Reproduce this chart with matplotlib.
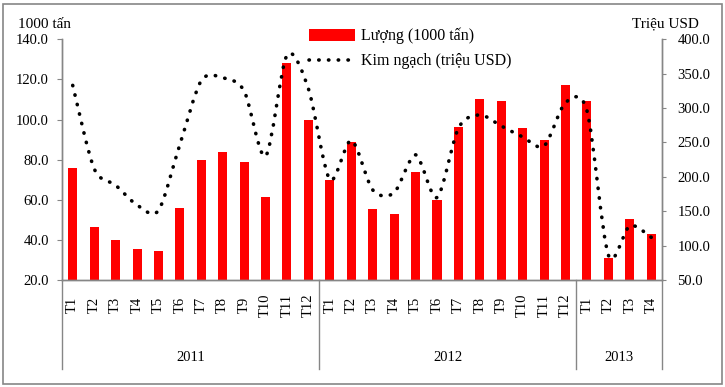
import numpy as np
import matplotlib
matplotlib.use("Agg")
import matplotlib.pyplot as plt
from matplotlib.path import Path
from matplotlib.patches import PathPatch, Patch, Rectangle
from matplotlib.lines import Line2D
import matplotlib.transforms as mtransforms

plt.rcParams['font.family'] = ['Liberation Serif', 'DejaVu Serif']

# --- data
months = ['T1', 'T2', 'T3', 'T4', 'T5', 'T6', 'T7', 'T8', 'T9', 'T10', 'T11', 'T12',
          'T1', 'T2', 'T3', 'T4', 'T5', 'T6', 'T7', 'T8', 'T9', 'T10', 'T11', 'T12',
          'T1', 'T2', 'T3', 'T4']
years = ['2011', '2012', '2013']
year_sizes = [12, 12, 4]

# Lượng (1000 tấn)
qty = [76, 46.5, 40, 35.5, 34.5, 56, 80, 84, 79, 61.5, 128, 100,
       70, 89, 55.5, 53, 74, 60, 96.5, 110, 109, 96, 90, 117,
       109, 31, 50.5, 43]
# Kim ngạch (triệu USD)
value = [333, 212, 188, 159, 151, 247, 340, 344, 325, 230, 377, 328,
         196, 253, 181, 177, 232, 170, 271, 290, 274, 258, 245, 308,
         296, 86, 129, 112]

RED = '#FF0000'
GRAY = '#868686'
FS = 10.5

W, H = 725, 387
fig = plt.figure(figsize=(W / 100, H / 100), dpi=100)
ax = fig.add_axes([62 / W, 1 - 280 / H, 600 / W, 240.7 / H])

x = np.arange(len(months))
ax.bar(x, qty, width=0.42, color=RED, zorder=2)
ax.set_xlim(-0.5, len(months) - 0.5)
ax.set_ylim(20, 140)
ax.set_yticks(np.arange(20, 141, 20))
ax.set_yticklabels([f'{v:.1f}' for v in np.arange(20, 141, 20)], fontsize=FS)
ax.set_xticks(x)
ax.set_xticklabels(months, rotation=90, fontsize=FS, va='center')
ax.tick_params(axis='x', length=0, pad=18)
ax.tick_params(axis='y', direction='out', length=3.5, color=GRAY, pad=6)

ax2 = ax.twinx()
ax2.set_ylim(50, 400)
ax2.set_yticks(np.arange(50, 401, 50))
ax2.set_yticklabels([f'{v:.1f}' for v in np.arange(50, 401, 50)], fontsize=FS)
ax2.tick_params(axis='y', direction='out', length=3, color=GRAY, pad=8)

for a in (ax, ax2):
    a.spines['top'].set_visible(False)
    for s in ('left', 'right', 'bottom'):
        a.spines[s].set_color(GRAY)
        a.spines[s].set_linewidth(1)

# smoothed dotted line (bezier through the data points)
pts = np.column_stack([x, value]).astype(float)
ext = np.vstack([pts[0], pts, pts[-1]])
verts = [tuple(pts[0])]
codes = [Path.MOVETO]
k = 1 / 7
for i in range(1, len(ext) - 2):
    p0, p1, p2, p3 = ext[i - 1], ext[i], ext[i + 1], ext[i + 2]
    c1 = p1 + (p2 - p0) * k
    c2 = p2 - (p3 - p1) * k
    verts += [tuple(c1), tuple(c2), tuple(p2)]
    codes += [Path.CURVE4] * 3
line_style = dict(linewidth=2.6, linestyle=(0, (0.1, 2.6)))
ax2.add_patch(PathPatch(Path(verts, codes), fill=False, edgecolor='black',
                        capstyle='round', zorder=3, **line_style))

# year groups below the axis
trans = mtransforms.blended_transform_factory(ax.transData, ax.transAxes)
edges = np.concatenate([[0], np.cumsum(year_sizes)]) - 0.5
for e in edges:
    ax.plot([e, e], [0, -0.37], color=GRAY, lw=1, transform=trans, clip_on=False)
for i, yr in enumerate(years):
    ax.text((edges[i] + edges[i + 1]) / 2, -0.32, yr, transform=trans,
            ha='center', va='center', fontsize=FS)

# axis unit labels
fig.text(45 / W, 1 - 25 / H, '1000 tấn', ha='center', va='center', fontsize=11)
fig.text(665 / W, 1 - 24 / H, 'Triệu USD', ha='center', va='center', fontsize=11)

# legend
handles = [Patch(facecolor=RED, edgecolor='none'),
           Line2D([], [], color='black', dash_capstyle='round', **line_style)]
fig.legend(handles, ['Lượng (1000 tấn)', 'Kim ngạch (triệu USD)'],
           loc='upper left', bbox_to_anchor=(309 / W, 1 - 28 / H), frameon=False,
           fontsize=11.5, handlelength=2.9, handletextpad=0.35, labelspacing=0.55,
           borderaxespad=0, borderpad=0)

# outer frame
fig.patches.append(Rectangle((3 / W, 3 / H), 719 / W, 380 / H, transform=fig.transFigure,
                             fill=False, edgecolor=GRAY, linewidth=1.2))

fig.savefig('out.png', dpi=100)
